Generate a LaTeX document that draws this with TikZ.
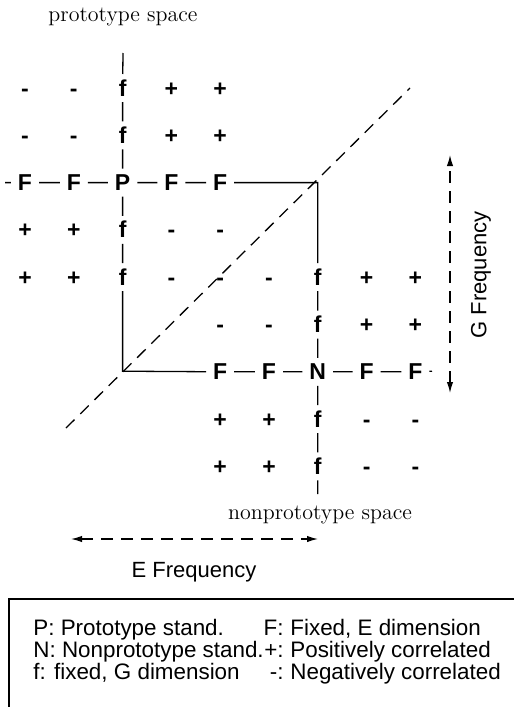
\documentclass[tikz,border=0pt]{standalone}
\usepackage{fontspec}
\setsansfont{Liberation Sans}
\usetikzlibrary{arrows.meta}
\begin{document}
\begin{tikzpicture}[x=0.5pt,y=-0.5pt,
  cell/.style={font=\sffamily\bfseries\fontsize{11.5}{12}\selectfont,text height=8pt,text depth=0pt,inner xsep=3.3pt,inner ysep=2.8pt},
  frame/.style={line width=0.65pt},
  axis/.style={line width=0.65pt,dash pattern=on 6pt off 4pt},
  tip/.style={{Latex[length=5.5pt,width=3.2pt]}-{Latex[length=5.5pt,width=3.2pt]}},
  lab/.style={font=\sffamily\fontsize{11}{12}\selectfont},
  keytext/.style={font=\sffamily\fontsize{11.2}{13}\selectfont,anchor=base west,inner sep=0pt},
  space/.style={font=\fontsize{11}{12}\selectfont}]
\useasboundingbox (0,0) rectangle (514,707);
\foreach \r/\first/\syms in {0/0/{-,-,f,+,+},1/0/{-,-,f,+,+},2/0/{F,F,P,F,F},3/0/{+,+,f,-,-},
    4/0/{+,+,f,-,-,-,f,+,+},5/4/{-,-,f,+,+},6/4/{F,F,N,F,F},7/4/{+,+,f,-,-},8/4/{+,+,f,-,-}} {
  \foreach \s [count=\c from \first] in \syms
    \node[cell] (n\c-\r) at (25+48.8*\c, 88+47.3*\r) {\s};
}
\coordinate (ptop) at (123,53);
\coordinate (pleft) at (5,182.6);
\coordinate (lo) at (122.6,371.2);
\coordinate (hi) at (317.8,182.6);
\coordinate (nright) at (432,371.2);
\coordinate (nbot) at (317.8,494);
\draw[frame] (ptop) -- (n2-0) -- (n2-1) -- (n2-2) -- (n2-3) -- (n2-4) -- (lo)
  -- (n4-6) -- (n5-6) -- (n6-6) -- (n7-6) -- (n8-6) -- (nright);
\draw[frame] (pleft) -- (n0-2) -- (n1-2) -- (n2-2) -- (n3-2) -- (n4-2) -- (hi)
  -- (n6-4) -- (n6-5) -- (n6-6) -- (n6-7) -- (n6-8) -- (nbot);
\coordinate (dlo) at (66,428);
\coordinate (dhi) at (410,88);
\draw[axis] (dlo) -- (dhi);
\node[space] (pspace) at (123,17) {prototype space};
\node[space] (nspace) at (320,515) {nonprototype space};
\coordinate (gtop) at (450,155);
\coordinate (gbot) at (450,393);
\draw[axis,tip] (gbot) -- (gtop);
\node[lab,rotate=90] (glab) at (481,275) {G Frequency};
\coordinate (eleft) at (71,539);
\coordinate (eright) at (318,539);
\draw[axis,tip] (eleft) -- (eright);
\node[lab] (elab) at (194,572) {E Frequency};
\coordinate (boxr) at (514,599);
\coordinate (boxc) at (9,599);
\coordinate (boxb) at (9,707);
\draw[frame] (boxr) -- (boxc) -- (boxb);
\foreach \y/\a/\b/\t in {635/P: Prototype stand./F:/{Fixed, E dimension},
    657/N: Nonprototype stand./+:/Positively correlated,
    679/{f: fixed, G dimension}/-:/Negatively correlated} {
  \node[keytext] (ka\y) at (33,\y) {\a};
  \node[keytext,anchor=base east] (kb\y) at (284,\y) {\b};
  \node[keytext] (kc\y) at (290,\y) {\t};
}
\end{tikzpicture}
\end{document}
